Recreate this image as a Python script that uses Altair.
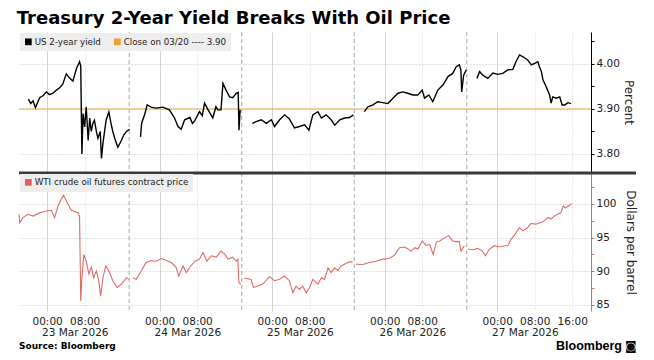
import altair as alt
import pandas as pd

YEAR = "2026-"

# ---------------- US 2-year yield (percent), one list pair per session ----------------
yield_t1 = ["03-22 20:00", "03-22 20:30", "03-22 21:00", "03-22 21:30", "03-22 22:25", "03-22 23:10",
            "03-22 23:50", "03-23 00:30", "03-23 01:15", "03-23 02:00", "03-23 02:40", "03-23 03:20",
            "03-23 04:05", "03-23 04:50", "03-23 05:30", "03-23 06:15", "03-23 06:55",
            "03-23 07:10", "03-23 07:25", "03-23 07:40", "03-23 08:00", "03-23 08:20", "03-23 08:45",
            "03-23 09:05", "03-23 09:25", "03-23 09:45", "03-23 10:05", "03-23 10:30", "03-23 10:50",
            "03-23 11:20", "03-23 11:35", "03-23 11:55", "03-23 12:35", "03-23 13:10", "03-23 13:35",
            "03-23 14:00", "03-23 14:30", "03-23 15:05", "03-23 15:50", "03-23 16:20", "03-23 16:55",
            "03-23 17:35"]
yield_v1 = [3.922, 3.912, 3.918, 3.903, 3.925, 3.930, 3.938, 3.932, 3.935, 3.942, 3.947, 3.955,
            3.978, 3.968, 3.962, 3.990, 4.005,
            3.995, 3.800, 3.890, 3.860, 3.905, 3.830, 3.880, 3.850, 3.868, 3.875, 3.850, 3.835,
            3.850, 3.790, 3.825, 3.875, 3.893, 3.870, 3.850, 3.832, 3.815, 3.830, 3.842, 3.850,
            3.855]

yield_t2 = ["03-23 19:55", "03-23 20:10", "03-23 20:50", "03-23 21:20", "03-23 22:10", "03-23 23:15",
            "03-24 00:40", "03-24 02:05", "03-24 03:10", "03-24 03:55", "03-24 04:35", "03-24 05:20",
            "03-24 06:25", "03-24 07:00", "03-24 07:30", "03-24 08:30", "03-24 09:05", "03-24 09:35",
            "03-24 10:20", "03-24 11:20", "03-24 12:00", "03-24 12:25", "03-24 13:05", "03-24 13:30",
            "03-24 14:10", "03-24 14:55", "03-24 15:35", "03-24 16:20", "03-24 16:45", "03-24 16:55",
            "03-24 17:10"]
yield_v2 = [3.838, 3.869, 3.889, 3.909, 3.904, 3.902, 3.904, 3.898, 3.880, 3.861, 3.855, 3.876,
            3.881, 3.868, 3.874, 3.894, 3.885, 3.913, 3.898, 3.880, 3.905, 3.898, 3.898, 3.957,
            3.942, 3.927, 3.925, 3.935, 3.937, 3.853, 3.898]

yield_t3 = ["03-24 19:45", "03-24 20:35", "03-24 21:40", "03-24 22:45", "03-24 23:50", "03-25 00:30",
            "03-25 01:35", "03-25 02:40", "03-25 03:40", "03-25 04:45", "03-25 05:50", "03-25 06:55",
            "03-25 07:50", "03-25 08:40", "03-25 09:45", "03-25 10:30", "03-25 11:30", "03-25 12:35",
            "03-25 13:20", "03-25 14:25", "03-25 15:25", "03-25 16:30", "03-25 17:20"]
yield_v3 = [3.868, 3.872, 3.876, 3.868, 3.876, 3.861, 3.876, 3.887, 3.878, 3.858, 3.861, 3.865,
            3.853, 3.887, 3.894, 3.880, 3.887, 3.876, 3.864, 3.876, 3.880, 3.881, 3.887]

yield_t4 = ["03-25 19:40", "03-25 20:25", "03-25 21:30", "03-25 22:30", "03-25 23:35", "03-26 00:40",
            "03-26 01:45", "03-26 02:50", "03-26 03:50", "03-26 04:55", "03-26 06:00", "03-26 07:05",
            "03-26 08:00", "03-26 08:30", "03-26 09:25", "03-26 10:15", "03-26 11:20", "03-26 12:25",
            "03-26 13:30", "03-26 14:30", "03-26 15:15", "03-26 15:55", "03-26 16:15", "03-26 16:25",
            "03-26 16:50", "03-26 17:25"]
yield_v4 = [3.894, 3.905, 3.909, 3.916, 3.914, 3.912, 3.924, 3.935, 3.938, 3.935, 3.931, 3.931,
            3.942, 3.924, 3.931, 3.916, 3.942, 3.953, 3.972, 3.979, 3.994, 3.998, 3.987, 3.938,
            3.975, 3.987]

yield_t5 = ["03-26 19:40", "03-26 20:15", "03-26 20:55", "03-26 22:00", "03-26 23:05", "03-27 00:05",
            "03-27 01:10", "03-27 02:15", "03-27 03:20", "03-27 04:00", "03-27 04:45", "03-27 05:30",
            "03-27 06:30", "03-27 07:15", "03-27 07:55", "03-27 08:40", "03-27 09:00", "03-27 09:25",
            "03-27 09:45", "03-27 10:25", "03-27 11:10", "03-27 11:30", "03-27 11:50", "03-27 12:35",
            "03-27 13:20", "03-27 13:50", "03-27 14:25", "03-27 15:05", "03-27 15:45"]
yield_v5 = [3.968, 3.983, 3.975, 3.968, 3.980, 3.977, 3.979, 3.987, 3.988, 4.005, 4.020, 4.016,
            4.009, 3.998, 4.001, 4.005, 3.994, 3.983, 3.965, 3.950, 3.931, 3.913, 3.927, 3.924,
            3.927, 3.909, 3.909, 3.914, 3.912]

close_value = [3.90]

# ---------------- WTI crude oil futures (dollars per barrel) ----------------
oil_t1 = ["03-22 18:00", "03-22 18:10", "03-22 18:50", "03-22 19:55", "03-22 21:00", "03-22 22:25",
          "03-22 23:50", "03-23 00:55", "03-23 01:35", "03-23 02:20", "03-23 03:00", "03-23 03:30",
          "03-23 04:15", "03-23 05:10", "03-23 05:55", "03-23 06:35", "03-23 06:55", "03-23 07:10",
          "03-23 07:25", "03-23 07:50", "03-23 08:20", "03-23 08:55", "03-23 09:25", "03-23 09:55",
          "03-23 10:30", "03-23 11:00", "03-23 11:25", "03-23 11:55", "03-23 12:30", "03-23 13:10",
          "03-23 14:00", "03-23 14:55", "03-23 15:50", "03-23 16:55", "03-23 17:25"]
oil_v1 = [98.47, 97.2, 97.97, 98.47, 98.2, 98.7, 98.96, 99.06, 97.97, 99.7, 100.7, 101.3,
          100.2, 99.06, 98.86, 98.7, 98.2, 85.6, 89.05, 92.5, 91.5, 89.6, 90.6, 89.05,
          90.05, 88.6, 86.3, 89.05, 90.8, 90.05, 88.6, 87.6, 88.1, 89.05, 88.8]

oil_t2 = ["03-23 18:20", "03-23 19:00", "03-23 20:05", "03-23 21:05", "03-23 22:10", "03-23 23:15",
          "03-24 00:20", "03-24 01:25", "03-24 02:30", "03-24 03:30", "03-24 04:05", "03-24 05:00",
          "03-24 05:40", "03-24 06:25", "03-24 07:30", "03-24 08:30", "03-24 09:15", "03-24 10:05",
          "03-24 11:00", "03-24 12:05", "03-24 13:05", "03-24 13:55", "03-24 14:35", "03-24 15:35",
          "03-24 16:20", "03-24 16:40", "03-24 16:55", "03-24 17:20"]
oil_v2 = [89.05, 88.8, 90.05, 91.3, 91.6, 91.5, 91.9, 91.6, 91.3, 90.6, 89.3, 90.8,
          89.8, 90.6, 91.5, 91.8, 92.8, 91.5, 92.3, 92.1, 93.0, 92.5, 91.8, 92.1,
          91.5, 91.8, 88.3, 88.1]

oil_t3 = ["03-24 18:05", "03-24 19:30", "03-24 20:00", "03-24 20:55", "03-24 22:00", "03-24 23:25",
          "03-25 00:30", "03-25 01:35", "03-25 02:35", "03-25 03:40", "03-25 04:25", "03-25 05:05",
          "03-25 05:50", "03-25 06:30", "03-25 07:15", "03-25 08:00", "03-25 08:40", "03-25 09:45",
          "03-25 10:30", "03-25 11:10", "03-25 11:55", "03-25 12:35", "03-25 13:20", "03-25 14:00",
          "03-25 14:40", "03-25 15:25", "03-25 16:30", "03-25 17:10"]
oil_v3 = [89.0, 88.8, 87.6, 87.8, 88.1, 89.2, 88.6, 88.8, 89.3, 88.6, 86.8, 87.8,
          87.3, 87.8, 86.8, 87.6, 88.8, 88.1, 89.05, 88.8, 90.5, 89.8, 90.5, 90.1,
          90.8, 91.05, 91.4, 91.4]

oil_t4 = ["03-25 17:55", "03-25 19:20", "03-25 20:45", "03-25 22:10", "03-25 23:35", "03-26 01:00",
          "03-26 02:05", "03-26 03:10", "03-26 04:15", "03-26 05:00", "03-26 05:40", "03-26 06:25",
          "03-26 07:05", "03-26 08:00", "03-26 08:50", "03-26 09:35", "03-26 10:20", "03-26 11:00",
          "03-26 11:45", "03-26 12:50", "03-26 13:40", "03-26 14:30", "03-26 15:15", "03-26 15:55",
          "03-26 16:15", "03-26 17:00"]
oil_v4 = [91.05, 91.0, 91.3, 91.5, 91.8, 91.9, 92.4, 93.5, 93.6, 93.3, 93.0, 93.5,
          93.3, 94.5, 93.8, 94.0, 92.5, 94.3, 94.5, 95.0, 95.3, 94.5, 94.4, 94.4,
          93.0, 93.8]

oil_t5 = ["03-26 17:45", "03-26 18:50", "03-26 19:50", "03-26 20:50", "03-26 21:30", "03-26 22:20",
          "03-26 23:25", "03-27 00:30", "03-27 01:30", "03-27 02:15", "03-27 02:55", "03-27 03:35",
          "03-27 04:45", "03-27 05:30", "03-27 06:30", "03-27 07:10", "03-27 08:15", "03-27 09:25",
          "03-27 10:05", "03-27 10:50", "03-27 11:30", "03-27 12:10", "03-27 12:55", "03-27 13:35",
          "03-27 14:05", "03-27 14:30", "03-27 15:10", "03-27 15:55"]
oil_v5 = [93.3, 93.2, 93.4, 93.0, 92.3, 93.3, 93.8, 93.6, 93.8, 93.8, 94.75, 95.3,
          96.5, 96.0, 96.5, 97.1, 97.0, 97.3, 97.5, 98.0, 97.8, 98.2, 98.5, 98.7,
          99.7, 99.4, 99.7, 100.05]

# ---------------- axis / label texts ----------------
session_breaks = ["03-23 17:30", "03-24 17:30", "03-25 17:30", "03-26 17:30"]
day_label_times = ["03-23 06:00", "03-24 06:00", "03-25 06:00", "03-26 06:00", "03-27 06:00"]
day_labels = ["23 Mar 2026", "24 Mar 2026", "25 Mar 2026", "26 Mar 2026", "27 Mar 2026"]
tick_days = [23, 24, 25, 26, 27]
tick_hours = [0, 8]
yield_legend = ["US 2-year yield", "Close on 03/20 ---- 3.90"]
oil_legend = ["WTI crude oil futures contract price"]
title_text = "Treasury 2-Year Yield Breaks With Oil Price"
source_text = "Source: Bloomberg"
brand_text = "Bloomberg"

# ---------------- build tables ----------------
def ts(s):
    return pd.Timestamp(YEAR + s)

def series(pairs):
    rows = []
    for i, (tt, vv) in enumerate(pairs):
        for a, b in zip(tt, vv):
            rows.append({"t": ts(a), "v": b, "seg": i})
    return pd.DataFrame(rows)

yield_df = series([(yield_t1, yield_v1), (yield_t2, yield_v2), (yield_t3, yield_v3),
                   (yield_t4, yield_v4), (yield_t5, yield_v5)])
oil_df = series([(oil_t1, oil_v1), (oil_t2, oil_v2), (oil_t3, oil_v3),
                 (oil_t4, oil_v4), (oil_t5, oil_v5)])
close_df = pd.DataFrame({"v": close_value, "label": [yield_legend[1]]})
breaks_df = pd.DataFrame({"t": [ts(s) for s in session_breaks]})
days_df = pd.DataFrame({"t": [ts(s) for s in day_label_times], "label": day_labels})
ylegend_df = pd.DataFrame({"label": yield_legend})
olegend_df = pd.DataFrame({"label": oil_legend})
foot_df = pd.DataFrame({"a": [0]})

W, H1, H2 = 572, 140, 138
FONT = "DejaVu Sans"

tick_values = [alt.DateTime(year=2026, month=3, date=d, hours=h) for d in tick_days for h in tick_hours]
tick_values.append(alt.DateTime(year=2026, month=3, date=27, hours=16))

xscale = alt.Scale(domain=[alt.DateTime(year=2026, month=3, date=22, hours=18),
                           alt.DateTime(year=2026, month=3, date=27, hours=20)], nice=False)

grid_dash_x = {"condition": {"test": "hours(datum.value) == 0", "value": []}, "value": [1, 2]}
grid_op_y = {"condition": {"test": "round(datum.value * 100) % 10 != 0", "value": 0}, "value": 1}
grid_op_y2 = {"condition": {"test": "datum.value % 5 != 0", "value": 0}, "value": 1}

x_top = alt.X("t:T", scale=xscale,
              axis=alt.Axis(values=tick_values, labels=False, ticks=False, domain=False, title=None,
                            grid=True, gridColor="#d4d4d4", gridDash=grid_dash_x))
x_bot = alt.X("t:T", scale=xscale,
              axis=alt.Axis(values=tick_values, format="%H:%M", ticks=False, domain=False, title=None,
                            labelFont=FONT, labelFontSize=10.5, labelColor="#222", labelPadding=5,
                            grid=True, gridColor="#d4d4d4", gridDash=grid_dash_x, labelFlush=False))

y_top = alt.Y("v:Q", scale=alt.Scale(domain=[3.76, 4.071], nice=False, zero=False),
              axis=alt.Axis(orient="right", values=[3.80, 3.85, 3.90, 3.95, 4.00, 4.05],
                            labelExpr="round(datum.value*100) % 10 == 0 ? format(datum.value, '.2f') : ''",
                            title="Percent", titleFont=FONT, titleFontSize=12, titleFontWeight="normal",
                            titleColor="#222", titlePadding=2,
                            labelFont=FONT, labelFontSize=10.5, labelColor="#222", labelPadding=2,
                            tickSize=3, tickColor="#000", domainColor="#000",
                            grid=True, gridColor="#c4c4c4", gridDash=[1, 2], gridOpacity=grid_op_y))

y_bot = alt.Y("v:Q", scale=alt.Scale(domain=[84.1, 104.6], nice=False, zero=False),
              axis=alt.Axis(orient="right", values=[85, 87.5, 90, 92.5, 95, 97.5, 100, 102.5],
                            labelExpr="datum.value % 5 == 0 ? format(datum.value, 'd') : ''",
                            title="Dollars per barrel", titleFont=FONT, titleFontSize=12,
                            titleFontWeight="normal", titleColor="#222", titlePadding=7,
                            labelFont=FONT, labelFontSize=10.5, labelColor="#222", labelPadding=2,
                            tickSize=3, tickColor="#b57a74", domainColor="#b57a74",
                            grid=True, gridColor="#c4c4c4", gridDash=[1, 2], gridOpacity=grid_op_y2))

def legend(fill_color="#eeeeee"):
    return alt.Legend(orient="top-left", direction="horizontal", title=None, offset=1,
                      fillColor=fill_color, padding=4, symbolType="square", symbolSize=45,
                      symbolStrokeWidth=0, symbolOpacity=1, labelFont=FONT, labelFontSize=8.7,
                      labelColor="#222", columnPadding=12, labelOffset=2, labelLimit=400)

# ---------------- top panel ----------------
top_breaks = alt.Chart(breaks_df).mark_rule(color="#a8a8a8", strokeDash=[4, 3], strokeWidth=1).encode(x=x_top)
top_close = alt.Chart(close_df).mark_rule(color="#f0a640", strokeWidth=1).encode(y=y_top)
top_line = alt.Chart(yield_df).mark_line(color="#000000", strokeWidth=1.4).encode(
    x=x_top, y=y_top, detail="seg:N")
top_leg = alt.Chart(ylegend_df).mark_square(opacity=0).encode(
    fill=alt.Fill("label:N", scale=alt.Scale(domain=yield_legend, range=["#000000", "#f0a030"]),
                  legend=legend()))
top = alt.layer(top_breaks, top_close, top_line, top_leg).properties(width=W, height=H1)

# ---------------- bottom panel ----------------
bot_breaks = alt.Chart(breaks_df).mark_rule(color="#a8a8a8", strokeDash=[4, 3], strokeWidth=1).encode(x=x_bot)
bot_line = alt.Chart(oil_df).mark_line(color="#e06a66", strokeWidth=1.1).encode(
    x=x_bot, y=y_bot, detail="seg:N")
bot_leg = alt.Chart(olegend_df).mark_square(opacity=0).encode(
    fill=alt.Fill("label:N", scale=alt.Scale(domain=oil_legend, range=["#e06060"]),
                  legend=legend()))
bot_days = alt.Chart(days_df).mark_text(font=FONT, fontSize=10.5, color="#222", baseline="middle").encode(
    x=x_bot, y=alt.value(H2 + 22), text="label:N")
sep = alt.Chart(foot_df).mark_rule(color="#3a3a3a", strokeWidth=3).encode(
    x=alt.value(0), x2=alt.value(617), y=alt.value(0))
src = alt.Chart(foot_df).mark_text(font=FONT, fontSize=9, fontWeight="bold", color="#000",
                                   align="left", baseline="middle", text=source_text).encode(
    x=alt.value(0), y=alt.value(H2 + 35))
brand = alt.Chart(foot_df).mark_text(font="Liberation Sans", fontSize=12.5, fontWeight="bold",
                                     color="#000", align="right", baseline="middle",
                                     text=brand_text).encode(x=alt.value(603), y=alt.value(H2 + 35))
icon = alt.Chart(foot_df).mark_text(font=FONT, fontSize=12, color="#000", align="left",
                                    baseline="middle", text="\u25d9").encode(
    x=alt.value(606), y=alt.value(H2 + 35))
bottom = alt.layer(bot_breaks, bot_line, bot_leg, bot_days, sep, src, brand, icon).properties(width=W, height=H2)

chart = alt.vconcat(top, bottom, spacing=-2).resolve_scale(
    fill="independent", y="independent", x="shared"
).properties(
    title=alt.Title(title_text, anchor="start", font=FONT, fontSize=18, fontWeight="bold",
                    color="#000", offset=4),
    padding={"left": 8, "top": 1, "right": 4, "bottom": 2},
    background="white",
).configure_view(stroke=None)

chart.save("out.html", embed_options={"renderer": "svg", "actions": False})
